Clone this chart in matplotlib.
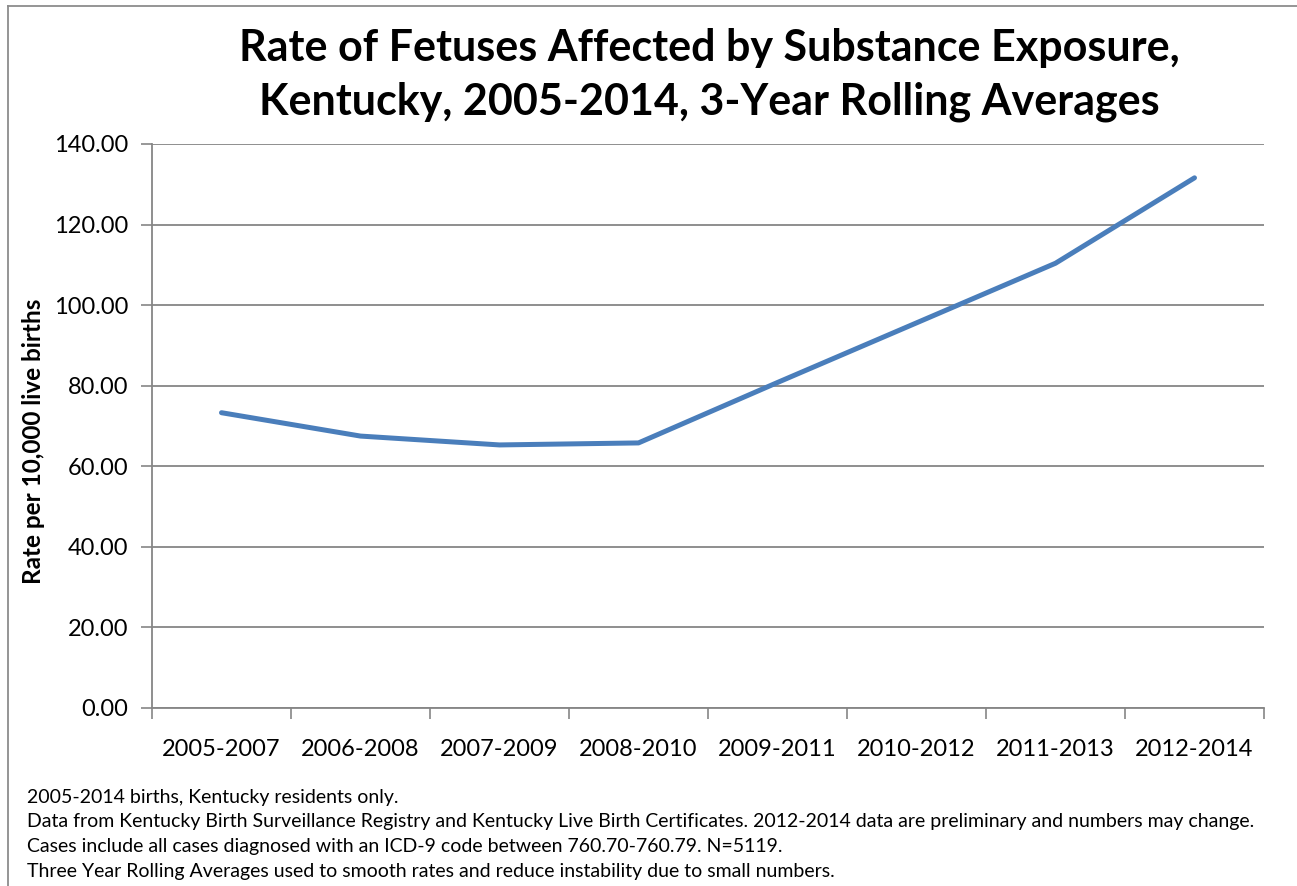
import numpy as np
import matplotlib.pyplot as plt
from matplotlib.lines import Line2D

# 3-year rolling average rate per 10,000 live births
periods = ["2005-2007", "2006-2008", "2007-2009", "2008-2010",
           "2009-2011", "2010-2012", "2011-2013", "2012-2014"]
rates = [73.3, 67.5, 65.3, 65.8, 80.8, 95.6, 110.4, 131.6]

y_ticks = [0, 20, 40, 60, 80, 100, 120, 140]

notes = [
    "2005-2014 births, Kentucky residents only.",
    "Data from Kentucky Birth Surveillance Registry and Kentucky Live Birth Certificates. "
    "2012-2014 data are preliminary and numbers may change.",
    "Cases include all cases diagnosed with an ICD-9 code between 760.70-760.79. N=5119.",
    "Three Year Rolling Averages used to smooth rates and reduce instability due to small numbers.",
]

plt.rcParams["font.family"] = ["Lato", "DejaVu Sans"]

W, H = 1297, 886
fig = plt.figure(figsize=(W / 100, H / 100), dpi=100)
ax = fig.add_axes([152 / W, 1 - 708 / H, (1264 - 152) / W, (708 - 144) / H])

grid_col = "#868686"
x = np.arange(len(periods))
ax.plot(x, rates, color="#4A7EBB", lw=3.6, solid_capstyle="round",
        solid_joinstyle="round", zorder=3)

ax.set_xlim(-0.5, len(periods) - 0.5)
ax.set_ylim(0, 140)
ax.set_yticks(y_ticks)
ax.set_yticklabels([f"{v:.2f}" for v in y_ticks], fontsize=17)
ax.set_xticks(x)
ax.set_xticklabels(periods, fontsize=17)
ax.set_xticks(np.arange(len(periods) + 1) - 0.5, minor=True)
ax.tick_params(axis="x", which="major", length=0, pad=22)
ax.tick_params(axis="x", which="minor", length=8, width=1.2, color=grid_col)
ax.tick_params(axis="y", length=8, width=1.2, color=grid_col, pad=9)

ax.yaxis.grid(True, color=grid_col, lw=1.3)
ax.set_axisbelow(True)
for s in ["top", "right"]:
    ax.spines[s].set_visible(False)
for s in ["left", "bottom"]:
    ax.spines[s].set_color(grid_col)
    ax.spines[s].set_linewidth(1.3)

fig.text(34 / W, 1 - 441 / H, "Rate per 10,000 live births", rotation=90,
         ha="center", va="center", fontsize=17.5, fontweight="bold")

fig.text(709 / W, 1 - 75 / H,
         "Rate of Fetuses Affected by Substance Exposure,\n"
         "Kentucky, 2005-2014, 3-Year Rolling Averages",
         ha="center", va="center", fontsize=31, fontweight="bold",
         linespacing=1.42)

for i, note in enumerate(notes):
    fig.text(27 / W, 1 - (797 + i * 24.7) / H, note, ha="left", va="center",
             fontsize=14)

# chart frame along the top and left edges
fig.add_artist(Line2D([8 / W, 1], [1 - 6 / H, 1 - 6 / H], color="#8c8c8c",
                      lw=1.3, transform=fig.transFigure))
fig.add_artist(Line2D([8 / W, 8 / W], [0, 1 - 6 / H], color="#8c8c8c",
                      lw=1.3, transform=fig.transFigure))

fig.savefig("out.png", dpi=100, facecolor="white")
